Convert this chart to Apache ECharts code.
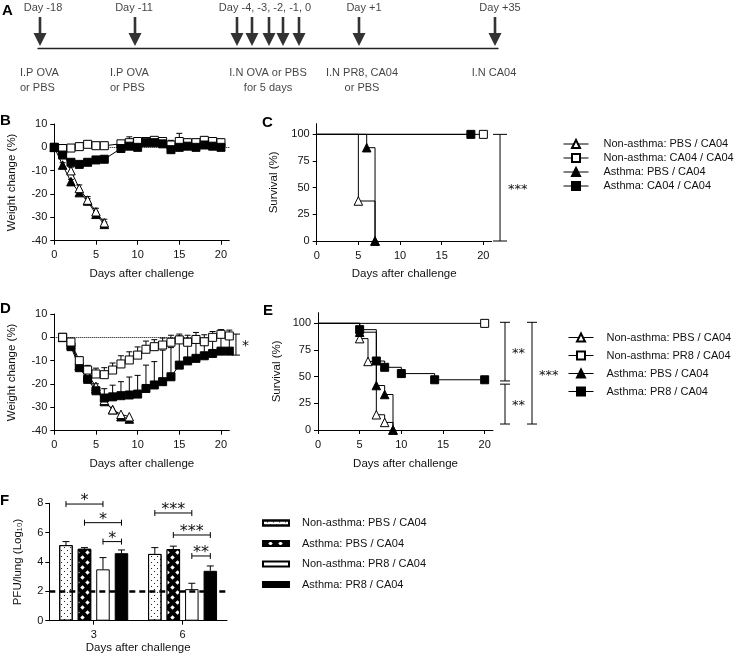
<!DOCTYPE html>
<html><head><meta charset="utf-8">
<script src="https://cdn.jsdelivr.net/npm/echarts@6/dist/echarts.min.js"></script>
<style>html,body{margin:0;padding:0;background:#fff}#c{width:740px;height:658px}</style>
</head><body><div id="c"></div>
<script>
// ================= DATA =================
// Panel A – timeline (schematic slots along the timeline bar)
const timelineArrowDays  = ['-18','-11','-4','-3','-2','-1','0','+1','+35'];
const timelineArrowSlots = [0.2, 9.7, 19.9, 21.4, 23.1, 24.5, 26.1, 32.1, 45.7];
const timelineTopLabels  = ['Day -18','Day -11','Day -4, -3, -2, -1, 0','Day +1','Day +35'];
const timelineTopSlots   = [0.5, 9.6, 22.7, 32.6, 46.2];
const timelineBottomLabels = ['I.P OVA\nor PBS','I.P OVA\nor PBS','I.N OVA or PBS\nfor 5 days','I.N PR8, CA04\nor PBS','I.N CA04'];
const timelineBottomSlots  = [-1.8, 7.2, 23.0, 32.4, 45.6];

// Series names
const NA_PBS = 'Non-asthma: PBS / CA04';
const NA_CA04 = 'Non-asthma: CA04 / CA04';
const AS_PBS = 'Asthma: PBS / CA04';
const AS_CA04 = 'Asthma: CA04 / CA04';
const NA_PR8 = 'Non-asthma: PR8 / CA04';
const AS_PR8 = 'Asthma: PR8 / CA04';

// Panel B – weight change (%)
const bDaysTri = [0,1,2,3,4,5,6];
const bDaysSq  = [0,1,2,3,4,5,6,7,8,9,10,11,12,13,14,15,16,17,18,19,20];
const bNonPbs     = [0,-1,-10,-17.6,-22.6,-27.6,-32.3];
const bNonPbsErr  = [0,1,1.5,1.5,1.5,1.5,1.5];
const bAsPbs      = [0,-7.6,-14.7,-19.4,-23,-28.7,-33];
const bAsPbsErr   = [0,1,1,1,1,1,1];
const bNonCa04    = [0,-0.5,-0.3,0.3,1.3,0.7,0.7,null,1.5,2,2.5,2.5,3,2.5,1,2.5,2,2,3,2.5,2];
const bNonCa04Err = [0,1,1.5,1.5,1.5,1.5,1.5,null,1,2.5,1.5,1.5,1,1.5,2,3.5,1.5,1.5,1.5,1.5,1.5];
const bAsCa04     = [0,-3.3,-6.4,-7.3,-6.4,-5.4,-5.1,null,-0.5,0.5,0,2,2,1.5,-1,0,0.5,0,1,0.5,0];
const bAsCa04Err  = [0,1,1,1,1,1,1,null,1,1,1,1,1,1,1,1,1,1,1,1,1];

// Panel C – survival (%) [day, percent]
const cNonPbs  = [[0,100],[5,37.5],[7,0]];
const cNonCa04 = [[0,100],[20,100]];
const cAsPbs   = [[0,100],[6,87.5],[7,0]];
const cAsCa04  = [[0,100],[18.5,100]];
const cSig = [[100,0,'***']];

// Panel D – weight change (%)
const dDaysTri = [1,2,3,4,5,6,7,8,9];
const dDaysSq  = [1,2,3,4,5,6,7,8,9,10,11,12,13,14,15,16,17,18,19,20,21];
const dNonPbs    = [0,-2,-12,-16,-21,-27,-31,-33,-34];
const dAsPbs     = [0,-3,-12,-17,-22,-27.5,-31,-34,-35];
const dNonPr8    = [0,-2,-10,-14,-15.7,-16,-14,-11.4,-9.7,-7.6,-5.1,-4,-3.3,-2.1,-1.1,-2.1,-0.9,-1.9,0,1.3,0.6];
const dNonPr8Err = [0,1,1.5,2,2.5,3,3,3.5,3.5,3.5,3.5,3,3,3,2.5,3,3,3,2.5,2,2.5];
const dAsPr8     = [0,-4,-13,-18,-22.9,-26,-25.5,-25,-24.7,-24.3,-21.9,-20.4,-19,-16.9,-11.9,-10.1,-9,-7.9,-6.9,-5.9,-5.9];
const dAsPr8Err  = [0,1,1.5,2,3,4,5,6,7.7,8,10,10,13.5,12.5,12.5,9,8,7.4,7,6.5,6.5];
const dSig = [[1.4,-7.6,'*']];

// Panel E – survival (%)
const eNonPbs = [[0,100],[5,85.7],[6,64.3],[7,14.3],[8,7.1],[9,0]];
const eNonPr8 = [[0,100],[20,100]];
const eAsPbs  = [[0,100],[5,91.7],[7,41.7],[8,33.3],[9,0]];
const eAsPr8  = [[0,100],[5,94.1],[7,64.7],[8,58.8],[10,52.9],[14,47.1],[20,47.1]];
const eSig = [[101,46,'**'],[43,5.6,'**'],[101,5.6,'***']];

// Panel F – PFU/lung (log10)
const fCategories = ['3','6'];
const fNonPbs    = [5.15, 4.55];
const fNonPbsErr = [0.24, 0.43];
const fAsPbs     = [4.9, 4.88];
const fAsPbsErr  = [0.08, 0.2];
const fNonPr8    = [3.5, 2.15];
const fNonPr8Err = [0.8, 0.4];
const fAsPr8     = [4.6, 3.4];
const fAsPr8Err  = [0.22, 0.33];
const fLimit = 2;
// [category, fromBar, toBar, level, text]
const fSig = [[0,0,2,7.95,'*'],[0,1,3,6.68,'*'],[0,2,3,5.39,'*'],[1,0,2,7.34,'***'],[1,1,3,5.84,'***'],[1,2,3,4.41,'**']];

// ================= STYLE / LAYOUT =================
const FONT = 'Liberation Sans, Arial, Helvetica, sans-serif';
const STAR_FONT = 'DejaVu Sans, sans-serif';
const TXT = '#111';
const BAR_W = 13.5, BAR_GAP = 5;
const ZWS = '\u200b'; // keeps bar legend names distinct from the line-series names

function xVal(gi, nameGap) {
  return {
    type:'value', gridIndex:gi, min:0, max:21,
    name:'Days after challenge', nameLocation:'middle', nameGap:nameGap,
    nameTextStyle:{fontSize:11.5, color:TXT, fontFamily:FONT},
    axisLine:{show:true, onZero:false, lineStyle:{color:'#000', width:1}},
    axisTick:{show:true, length:4, lineStyle:{color:'#000'}, customValues:[0,5,10,15,20]},
    axisLabel:{fontSize:11, color:TXT, fontFamily:FONT, margin:9, customValues:[0,5,10,15,20]},
    splitLine:{show:false}
  };
}
function yWeight(gi) {
  return {
    type:'value', gridIndex:gi, min:-40, max:10, interval:10,
    name:'Weight change (%)', nameLocation:'middle', nameGap:36,
    nameTextStyle:{fontSize:11.5, color:TXT, fontFamily:FONT},
    axisLine:{show:true, lineStyle:{color:'#000', width:1}},
    axisTick:{show:true, length:4, lineStyle:{color:'#000'}},
    axisLabel:{fontSize:11, color:TXT, fontFamily:FONT, margin:7},
    splitLine:{show:false}
  };
}
function ySurv(gi, nameGap) {
  return {
    type:'value', gridIndex:gi, min:0, max:110,
    name:'Survival (%)', nameLocation:'middle', nameGap:nameGap,
    nameTextStyle:{fontSize:11.5, color:TXT, fontFamily:FONT},
    axisLine:{show:true, lineStyle:{color:'#000', width:1}},
    axisTick:{show:true, length:4, lineStyle:{color:'#000'}, customValues:[0,25,50,75,100]},
    axisLabel:{fontSize:11, color:TXT, fontFamily:FONT, margin:7, customValues:[0,25,50,75,100]},
    splitLine:{show:false}
  };
}

function lineSeries(name, sym, filled, gi, days, vals, z, extra) {
  return Object.assign({
    type:'line', name:name, xAxisIndex:gi, yAxisIndex:gi,
    data: days.map((d,i)=> [d, vals[i]]),
    symbol:sym, symbolSize: sym==='triangle'?8.5:8, showAllSymbol:true,
    connectNulls:true, clip:false, z:z, silent:true,
    lineStyle:{color:'#000', width:1},
    itemStyle:{color: filled?'#000':'#fff', borderColor:'#000', borderWidth:1}
  }, extra||{});
}
function survSeries(name, sym, filled, gi, pts, z) {
  return {
    type:'line', name:name, xAxisIndex:gi, yAxisIndex:gi, step:'end',
    data: pts.map((p,i)=> i===0 ? {value:p, symbol:'none'} : {value:p}),
    symbol:sym, symbolSize: sym==='triangle'?8.5:8, showAllSymbol:true,
    clip:false, z:z, silent:true,
    lineStyle:{color:'#000', width:1},
    itemStyle:{color: filled?'#000':'#fff', borderColor:'#000', borderWidth:1}
  };
}
function errSeries(gi, days, vals, errs, z) {
  const data = [];
  days.forEach((d,i)=>{ if (vals[i]!=null && errs[i]) data.push([d, vals[i], errs[i]]); });
  return {
    type:'custom', xAxisIndex:gi, yAxisIndex:gi, data:data, z:z, silent:true, clip:false,
    encode:{x:0, y:1},
    renderItem:function(params, api){
      const p0 = api.coord([api.value(0), api.value(1)]);
      const p1 = api.coord([api.value(0), api.value(1)+api.value(2)]);
      const s = {stroke:'#000', lineWidth:1};
      return {type:'group', children:[
        {type:'line', shape:{x1:p0[0],y1:p0[1],x2:p1[0],y2:p1[1]}, style:s},
        {type:'line', shape:{x1:p1[0]-3,y1:p1[1],x2:p1[0]+3,y2:p1[1]}, style:s}
      ]};
    }
  };
}
// vertical significance brackets: xs = data-x of each bracket, cap = half cap width, dx = label offset
function vSigSeries(gi, sig, xs, cap, dx, fs) {
  return {
    type:'custom', xAxisIndex:gi, yAxisIndex:gi, clip:false, silent:true, z:5,
    data: sig.map((s,i)=> [xs[i], s[0], s[1]]),
    renderItem:function(params, api){
      const x = api.value(0);
      const a = api.coord([x, api.value(1)]), b = api.coord([x, api.value(2)]);
      const st = {stroke:'#000', lineWidth:1};
      return {type:'group', children:[
        {type:'line', shape:{x1:a[0],y1:a[1],x2:b[0],y2:b[1]}, style:st},
        {type:'line', shape:{x1:a[0]-cap,y1:a[1],x2:a[0]+cap,y2:a[1]}, style:st},
        {type:'line', shape:{x1:b[0]-cap,y1:b[1],x2:b[0]+cap,y2:b[1]}, style:st},
        {type:'text', x:a[0]+dx, y:(a[1]+b[1])/2+2, style:{text:sig[params.dataIndex][2], fontSize:fs, fontFamily:STAR_FONT, fill:TXT, align:'left', verticalAlign:'middle'}}
      ]};
    }
  };
}

const barOffset = (k)=> (k-1.5)*(BAR_W+BAR_GAP);
function barSeries(name, color, decal, vals) {
  const s = {
    type:'bar', name:name+ZWS, xAxisIndex:5, yAxisIndex:5, data:vals,
    barWidth:BAR_W, barGap:(BAR_GAP/BAR_W*100)+'%', z:2, silent:true,
    itemStyle:{color:color, borderColor:'#000', borderWidth:1}
  };
  if (decal) s.itemStyle.decal = decal;
  return s;
}
const fAll = [[fNonPbs,fNonPbsErr],[fAsPbs,fAsPbsErr],[fNonPr8,fNonPr8Err],[fAsPr8,fAsPr8Err]];
const fErrData = [];
fAll.forEach((g,k)=> g[0].forEach((v,c)=> fErrData.push([c,k,v,g[1][c]])));

const dotDecal = {symbol:'circle', symbolSize:0.4, color:'#000', dashArrayX:[[2.6,2.6],[0,2.6,2.6,0]], dashArrayY:[2.6,0]};
const diamondDecal = {symbol:'diamond', symbolSize:0.9, color:'#fff', dashArrayX:[[4.5,4.5],[0,4.5,4.5,0]], dashArrayY:[4.5,0]};

const letter = (t, left, top)=>({text:t, left:left, top:top, padding:0, textStyle:{fontSize:15, fontWeight:'bold', color:'#000', fontFamily:FONT}});
const legendText = (pad)=>({fontSize:11, lineHeight:12, color:TXT, fontFamily:FONT, padding:[0,0,0,pad]});

const option = {
  animation:false,
  backgroundColor:'#fff',
  textStyle:{fontFamily:FONT},
  title:[letter('A',2,3), letter('B',0,113), letter('C',262,115), letter('D',0,301), letter('E',263,303), letter('F',0,493)],
  grid:[
    {left:38, top:8, width:460, height:40},
    {left:54.3, top:124, width:175, height:116.7},
    {left:316.7, top:123.7, width:175, height:117.3},
    {left:54.3, top:314, width:175, height:116.7},
    {left:318, top:312.7, width:175, height:117.3},
    {left:49.3, top:503.3, width:177.7, height:117.4}
  ],
  xAxis:[
    {type:'value', gridIndex:0, min:0, max:46, axisLine:{show:true, lineStyle:{color:'#222', width:1.3}}, axisTick:{show:false}, axisLabel:{show:false}, splitLine:{show:false}},
    xVal(1,27), xVal(2,27), xVal(3,27), xVal(4,28),
    {type:'category', gridIndex:5, data:fCategories,
     name:'Days after challenge', nameLocation:'middle', nameGap:21,
     nameTextStyle:{fontSize:11.5, color:TXT, fontFamily:FONT},
     axisLine:{show:true, lineStyle:{color:'#000', width:1}},
     axisTick:{show:true, alignWithLabel:true, length:4, lineStyle:{color:'#000'}},
     axisLabel:{fontSize:11, color:TXT, fontFamily:FONT, margin:9}}
  ],
  yAxis:[
    {type:'value', gridIndex:0, min:0, max:1, show:false},
    yWeight(1), ySurv(2,37), yWeight(3), ySurv(4,35),
    {type:'value', gridIndex:5, min:0, max:8, interval:2,
     name:'PFU/lung (Log\u2081\u2080)', nameLocation:'middle', nameGap:25,
     nameTextStyle:{fontSize:11.5, color:TXT, fontFamily:FONT},
     axisLine:{show:true, lineStyle:{color:'#000', width:1}},
     axisTick:{show:true, length:4, lineStyle:{color:'#000'}},
     axisLabel:{fontSize:11, color:TXT, fontFamily:FONT, margin:6},
     splitLine:{show:false}}
  ],
  legend:[
    {orient:'vertical', left:563, top:138, padding:0, itemWidth:25, itemHeight:10, itemGap:2, selectedMode:false,
     lineStyle:{width:1}, data:[NA_PBS, NA_CA04, AS_PBS, AS_CA04], textStyle:legendText(10)},
    {orient:'vertical', left:568, top:331.5, padding:0, itemWidth:25, itemHeight:10, itemGap:6, selectedMode:false,
     lineStyle:{width:1}, data:[NA_PBS, NA_PR8, AS_PBS, AS_PR8], textStyle:legendText(8)},
    {orient:'vertical', left:262, top:517, padding:0, itemWidth:26, itemHeight:5, itemGap:8.5, selectedMode:false, icon:'rect',
     data:[NA_PBS+ZWS, AS_PBS+ZWS, NA_PR8+ZWS, AS_PR8+ZWS], textStyle:legendText(8)}
  ],
  series:[
    // ---- A timeline ----
    {type:'scatter', xAxisIndex:0, yAxisIndex:0, clip:false, silent:true,
     data: timelineArrowSlots.map((s,i)=>({value:[s,0], name:timelineArrowDays[i]})),
     symbol:'path://M5.2,0 L7.8,0 L7.8,16 L13,16 L6.5,29 L0,16 L5.2,16 Z', symbolKeepAspect:false,
     symbolSize:[13,29], symbolOffset:[0,-16.5], itemStyle:{color:'#000'}},
    {type:'scatter', xAxisIndex:0, yAxisIndex:0, clip:false, silent:true, symbolSize:1, itemStyle:{color:'rgba(0,0,0,0)'},
     data: timelineTopSlots.map((s,i)=>({value:[s,1], label:{formatter:timelineTopLabels[i]}})),
     label:{show:true, position:'inside', fontSize:11, color:TXT, fontFamily:FONT}},
    {type:'scatter', xAxisIndex:0, yAxisIndex:0, clip:false, silent:true, symbolSize:1, itemStyle:{color:'rgba(0,0,0,0)'},
     data: timelineBottomSlots.map((s,i)=>({value:[s,-0.43], label:{formatter:timelineBottomLabels[i], align: i<2?'left':'center'}})),
     label:{show:true, position:'inside', verticalAlign:'top', lineHeight:15, fontSize:11, color:TXT, fontFamily:FONT}},

    // ---- B weight ----
    lineSeries(AS_PBS, 'triangle', true, 1, bDaysTri, bAsPbs, 3,
      {markLine:{silent:true, symbol:'none', label:{show:false}, lineStyle:{type:'dotted', color:'#000', width:1}, data:[{yAxis:0}]}}),
    lineSeries(NA_PBS, 'triangle', false, 1, bDaysTri, bNonPbs, 4),
    lineSeries(NA_CA04, 'rect', false, 1, bDaysSq, bNonCa04, 5),
    lineSeries(AS_CA04, 'rect', true, 1, bDaysSq, bAsCa04, 6),
    errSeries(1, bDaysTri, bAsPbs, bAsPbsErr, 2),
    errSeries(1, bDaysTri, bNonPbs, bNonPbsErr, 2),
    errSeries(1, bDaysSq, bNonCa04, bNonCa04Err, 2),
    errSeries(1, bDaysSq, bAsCa04, bAsCa04Err, 2),

    // ---- C survival ----
    survSeries(NA_PBS, 'triangle', false, 2, cNonPbs, 3),
    survSeries(AS_PBS, 'triangle', true, 2, cAsPbs, 4),
    survSeries(NA_CA04, 'rect', false, 2, cNonCa04, 3),
    survSeries(AS_CA04, 'rect', true, 2, cAsCa04, 4),
    vSigSeries(2, cSig, [22.0], 7, 8, 13),

    // ---- D weight ----
    lineSeries(AS_PBS, 'triangle', true, 3, dDaysTri, dAsPbs, 3,
      {markLine:{silent:true, symbol:'none', label:{show:false}, lineStyle:{type:'dotted', color:'#000', width:1}, data:[{yAxis:0}]}}),
    lineSeries(NA_PBS, 'triangle', false, 3, dDaysTri, dNonPbs, 4),
    lineSeries(AS_PR8, 'rect', true, 3, dDaysSq, dAsPr8, 5),
    lineSeries(NA_PR8, 'rect', false, 3, dDaysSq, dNonPr8, 6),
    errSeries(3, dDaysSq, dAsPr8, dAsPr8Err, 2),
    errSeries(3, dDaysSq, dNonPr8, dNonPr8Err, 2),
    vSigSeries(3, dSig, [21.8], 4, 6, 14),

    // ---- E survival ----
    survSeries(NA_PBS, 'triangle', false, 4, eNonPbs, 3),
    survSeries(AS_PBS, 'triangle', true, 4, eAsPbs, 4),
    survSeries(NA_PR8, 'rect', false, 4, eNonPr8, 3),
    survSeries(AS_PR8, 'rect', true, 4, eAsPr8, 5),
    vSigSeries(4, eSig, [22.44, 22.44, 25.68], 5, 7, 13),

    // ---- F bars ----
    {type:'line', xAxisIndex:5, yAxisIndex:5, data:[], z:1, silent:true,
     markLine:{silent:true, symbol:'none', label:{show:false}, lineStyle:{type:[6,4], color:'#000', width:2.5}, data:[{yAxis:fLimit}]}},
    barSeries(NA_PBS, '#fff', dotDecal, fNonPbs),
    barSeries(AS_PBS, '#000', diamondDecal, fAsPbs),
    barSeries(NA_PR8, '#fff', null, fNonPr8),
    barSeries(AS_PR8, '#000', null, fAsPr8),
    {type:'custom', xAxisIndex:5, yAxisIndex:5, data:fErrData, z:3, silent:true, clip:false,
     renderItem:function(params, api){
       const base = api.coord([api.value(0), api.value(2)]);
       const top = api.coord([api.value(0), api.value(2)+api.value(3)]);
       const x = base[0] + barOffset(api.value(1));
       const st = {stroke:'#000', lineWidth:1};
       return {type:'group', children:[
         {type:'line', shape:{x1:x,y1:base[1],x2:x,y2:top[1]}, style:st},
         {type:'line', shape:{x1:x-3.5,y1:top[1],x2:x+3.5,y2:top[1]}, style:st}
       ]};
     }},
    {type:'custom', xAxisIndex:5, yAxisIndex:5, data:fSig.map(s=>[s[0],s[1],s[2],s[3]]), z:4, silent:true, clip:false,
     renderItem:function(params, api){
       const c = api.coord([api.value(0), api.value(3)]);
       const x1 = c[0] + barOffset(api.value(1)), x2 = c[0] + barOffset(api.value(2)), y = c[1];
       const st = {stroke:'#000', lineWidth:1};
       return {type:'group', children:[
         {type:'line', shape:{x1:x1,y1:y,x2:x2,y2:y}, style:st},
         {type:'line', shape:{x1:x1,y1:y-3,x2:x1,y2:y+3}, style:st},
         {type:'line', shape:{x1:x2,y1:y-3,x2:x2,y2:y+3}, style:st},
         {type:'text', x:(x1+x2)/2, y:y-3, style:{text:fSig[params.dataIndex][4], fontSize:16, fontFamily:STAR_FONT, fill:TXT, align:'center', verticalAlign:'middle'}}
       ]};
     }}
  ]
};

const chart = echarts.init(document.getElementById('c'), null, {renderer:'canvas'});
chart.setOption(option);
</script>
</body></html>
